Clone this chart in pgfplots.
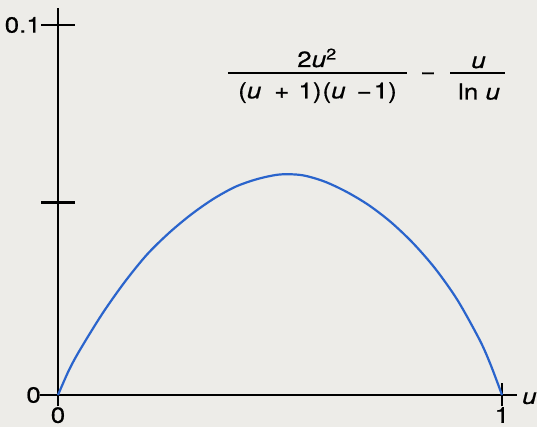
\documentclass[border=0pt]{standalone}
\usepackage{pgfplots}
\pgfplotsset{compat=1.18}
\usepackage{fontspec}
\setmainfont{TeX Gyre Heros}[FakeStretch=1.18, FakeBold=0.6]
\definecolor{paper}{RGB}{237,236,232}
\definecolor{curveblue}{RGB}{42,100,204}

\begin{document}
\fontsize{22bp}{26bp}\selectfont
\begin{tikzpicture}
% page background; the axis origin sits at pixel (58,395)
\fill[paper] (-40.24bp,-22.75bp) rectangle (496.76bp,404.25bp);
\begin{axis}[
    x=444bp, y=3700bp,
    xmin=-0.04, xmax=1.034,
    ymin=-0.0025, ymax=0.1046,
    axis lines=middle,
    axis line style={-, black, line width=2.4bp},
    hide obscured x ticks=false,
    hide obscured y ticks=false,
    xtick={0,1}, xticklabels={0,1},
    ytick={0,0.052,0.1}, yticklabels={0,,0.1},
    tick align=center,
    major tick length=34bp,
    xtick style={/pgfplots/major tick length=23bp},
    every tick/.style={line width=2.4bp, black},
    ticklabel style={inner sep=0pt},
    xticklabel style={anchor=north, yshift=5bp},
    yticklabel style={anchor=east},
    xlabel={\textit{u}},
    xlabel style={at={(axis cs:1.045,-0.0024)}, anchor=base west, inner sep=0pt},
    clip=false,
]
% axis lines drawn again at full weight
\draw[line width=2.4bp, line cap=butt] (axis cs:-0.04,0) -- (axis cs:1.034,0);
\draw[line width=2.4bp, line cap=butt] (axis cs:0,-0.0025) -- (axis cs:0,0.1046);
\addplot[curveblue, line width=2.2bp, smooth] coordinates {
    (0,0) (0.025,0.0068) (0.05,0.0123) (0.10,0.0220) (0.15,0.0305)
    (0.20,0.0379) (0.25,0.0438) (0.30,0.0488) (0.35,0.0530)
    (0.40,0.0563) (0.45,0.0584) (0.50,0.0596) (0.55,0.0594)
    (0.60,0.0577) (0.65,0.0549) (0.70,0.0513) (0.75,0.0467)
    (0.80,0.0410) (0.85,0.0341) (0.90,0.0256) (0.95,0.0148)
    (0.975,0.0080) (1,0)
};
\end{axis}
% formula, placed in pixel coordinates of the reference
\begin{scope}[xshift=-40.24bp, yshift=404.25bp, x=1bp, y=-1bp]
\node[anchor=base, inner sep=0pt] at (317,67) {2\textit{u}\textsuperscript{2}};
\draw[line width=2bp] (228,72.7) -- (407,72.7);
\node[anchor=base west, inner sep=0pt] at (238,98.3)
    {(\textit{u}\hspace{13bp}+\hspace{9bp}1)\hspace{1bp}(\textit{u}\hspace{11bp}−\hspace{2bp}1)};
\node[anchor=base, inner sep=0pt] at (428,78.8) {−};
\node[anchor=base, inner sep=0pt] at (478.5,68) {\textit{u}};
\draw[line width=2bp] (450,72.7) -- (505,72.7);
\node[anchor=base, inner sep=0pt] at (479,99.5) {ln \textit{u}};
\end{scope}
\end{tikzpicture}
\end{document}
